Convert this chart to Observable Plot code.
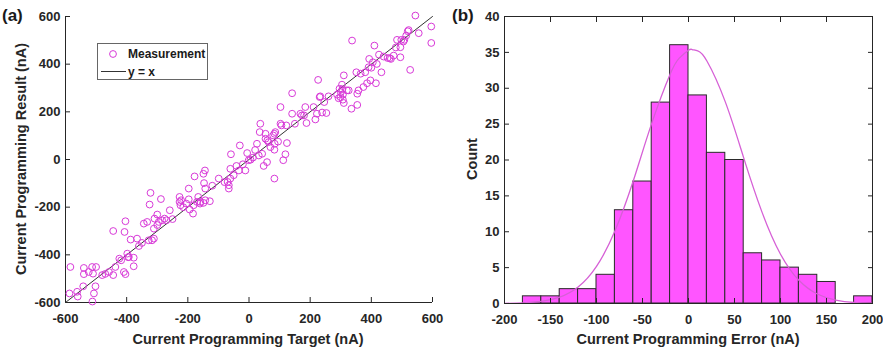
<!DOCTYPE html>
<html><head><meta charset="utf-8">
<script src="https://cdn.jsdelivr.net/npm/d3@7"></script>
<script src="https://cdn.jsdelivr.net/npm/@observablehq/plot@0.6"></script>
<style>
body{margin:0;background:#fff;font-family:"Liberation Sans",Arial,sans-serif;}
#wrap{position:relative;width:883px;height:350px;overflow:hidden;}
.panel{position:absolute;top:0;}
.tag{position:absolute;font-weight:bold;font-size:17px;color:#1a1a1a;line-height:1;}
.title{position:absolute;font-weight:bold;font-size:14.5px;color:#262626;white-space:nowrap;line-height:1;transform:translate(-50%,-50%);}
.title.rot{transform:translate(-50%,-50%) rotate(-90deg);}
.legend{position:absolute;left:97px;top:43px;width:111px;height:37px;border:1px solid #666;background:#fff;box-sizing:border-box;font-weight:bold;font-size:12px;color:#1a1a1a;}
.legend svg{position:absolute;left:0;top:0;}
.legend span{position:absolute;left:30px;line-height:1;transform:translateY(-50%);}
</style></head>
<body>
<div id="wrap"></div>
<script>
// ---- Panel (a) data: target vs measured current (nA)
const target = [-587,-584,-562,-542,-540,-540,-524,-513,-500,-512,-507,-502,-510,-480,-458,-444,-444,-437,-424,-418,
-407,-404,-409,-404,-398,-393,-387,-377,-377,-366,-360,-344,-333,-325,-322,-328,-317,-311,-311,-309,
-300,-295,-288,-284,-276,-270,-259,-227,-227,-224,-222,-197,-197,-194,-183,-181,-178,-170,-166,-159,
-149,-144,-147,-143,-143,-149,-128,-99,-70,-66,-66,-61,-59,-61,-50,-41,-33,-30,-12,-6,
-1,5,13,26,35,37,32,43,48,54,54,59,64,70,79,83,84,83,83,86,
103,103,106,112,119,122,124,141,141,168,173,184,188,211,217,222,226,231,233,239,
246,253,288,293,296,299,304,307,307,310,310,326,335,337,351,354,354,358,374,380,
386,391,393,397,405,410,415,418,433,440,453,464,473,484,495,495,498,508,514,519,
522,527,544,555,596,596,
-560,-470,-395,-350,-300,-250,-215,-205,-160,-120,-80,-20,20,60,95,150,180,260,300,305,320,365,400,425,460,480,505];
const result = [-562,-451,-555,-532,-455,-481,-472,-451,-451,-596,-562,-532,-479,-485,-472,-485,-300,-451,-416,-423,
-304,-259,-472,-481,-395,-409,-336,-448,-412,-332,-363,-269,-262,-189,-140,-339,-339,-332,-290,-248,
-231,-262,-166,-255,-248,-255,-213,-157,-178,-192,-171,-122,-167,-210,-227,-192,-71,-178,-157,-178,
-60,-46,-99,-122,-171,-182,-175,-80,-94,-122,-108,-39,22,-80,-66,-27,-46,59,-46,27,
-3,-1,8,66,115,150,17,24,-27,87,108,-11,73,52,101,108,66,41,-80,115,
220,150,143,-3,22,143,69,192,278,192,185,220,153,220,168,192,334,262,265,197,
241,195,272,257,297,262,314,272,251,353,237,290,213,499,366,276,229,290,304,366,
320,387,422,332,408,478,320,401,366,432,426,422,436,502,429,471,502,502,520,538,
543,376,604,530,558,489,
-575,-480,-410,-350,-275,-250,-200,-185,-185,-110,-95,-20,40,80,75,150,185,265,282,295,290,360,385,440,425,470,495];
const identityEnds = [-600, 600];
const ticksA = [-600,-400,-200,0,200,400,600];

// ---- Panel (b) data: error histogram (nA) and fitted curve
const binLeft = [-180,-160,-140,-120,-100,-80,-60,-40,-20,0,20,40,60,80,100,120,140,160,180];
const counts  = [1,1,2,2,4,13,17,28,36,29,21,20,7,6,5,4,3,0,1];
const binWidth = 20;
const fitX = [-200,-180,-160,-140,-120,-100,-80,-60,-40,-20,-10,0,4,10,20,40,60,80,100,120,140,160,180,200];
const fitY = [0.02,0.09,0.29,0.88,2.29,5.17,10.1,17.1,25.1,31.95,34.2,35.3,35.4,35.2,33.8,28.1,20.3,12.7,6.87,3.23,1.32,0.47,0.14,0.04];
const ticksBx = [-200,-150,-100,-50,0,50,100,150,200];
const ticksBy = [0,5,10,15,20,25,30,35,40];

const ink = "#262626";
const font = {fontFamily:"'Liberation Sans', Arial, sans-serif", fontSize:"13px", fontWeight:"bold", color:ink, background:"transparent", overflow:"visible"};
const fmt = d => String(d);

const left = Plot.plot({
  width: 440, height: 350,
  marginLeft: 65, marginRight: 8, marginTop: 16, marginBottom: 48,
  style: font,
  x: {domain: [-600, 600], label: null},
  y: {domain: [-600, 600], label: null},
  marks: [
    Plot.axisX(ticksA, {tickSize: 5, dy: -5, tickFormat: () => "", stroke: ink, label: null}),
    Plot.axisX(ticksA, {tickSize: 0, tickPadding: 11, tickFormat: fmt, fill: ink, label: null}),
    Plot.axisY(ticksA, {tickSize: 5, dx: 5, tickFormat: () => "", stroke: ink, label: null}),
    Plot.axisY(ticksA, {tickSize: 0, tickPadding: 5, tickFormat: fmt, fill: ink, label: null}),
    Plot.ruleX([-600], {stroke: ink}),
    Plot.ruleY([-600], {stroke: ink}),
    Plot.line(identityEnds, {x: d => d, y: d => d, stroke: "#333", strokeWidth: 1}),
    Plot.dot(d3.range(target.length), {x: i => target[i], y: i => result[i], r: 3.4, stroke: "#d83ad8", strokeWidth: 1, fill: "none"})
  ]
});

const right = Plot.plot({
  width: 443, height: 350,
  marginLeft: 64, marginRight: 11, marginTop: 16, marginBottom: 47,
  style: font,
  x: {domain: [-200, 200], label: null},
  y: {domain: [0, 40], label: null},
  marks: [
    Plot.rect(d3.range(counts.length).filter(i => counts[i] > 0), {
      x1: i => binLeft[i], x2: i => binLeft[i] + binWidth, y1: () => 0, y2: i => counts[i],
      fill: "#ff55ff", stroke: "#2a2a2a", strokeWidth: 1}),
    Plot.line(d3.range(fitX.length), {x: i => fitX[i], y: i => fitY[i], stroke: "#d660d6", strokeWidth: 1.3, curve: "natural"}),
    Plot.frame({stroke: ink}),
    Plot.axisX(ticksBx, {tickSize: 5, dy: -5, tickFormat: () => "", stroke: ink, label: null}),
    Plot.axisX(ticksBx, {anchor: "top", tickSize: 5, dy: 5, tickFormat: () => "", stroke: ink, label: null}),
    Plot.axisX(ticksBx, {tickSize: 0, tickPadding: 11, tickFormat: fmt, fill: ink, label: null}),
    Plot.axisY(ticksBy, {tickSize: 5, dx: 5, tickFormat: () => "", stroke: ink, label: null}),
    Plot.axisY(ticksBy, {anchor: "right", tickSize: 5, dx: -5, tickFormat: () => "", stroke: ink, label: null}),
    Plot.axisY(ticksBy, {tickSize: 0, tickPadding: 5, tickFormat: fmt, fill: ink, label: null})
  ]
});

const wrap = document.getElementById("wrap");
left.classList.add("panel"); left.style.left = "0px";
right.classList.add("panel"); right.style.left = "440px";
wrap.appendChild(left);
wrap.appendChild(right);

function addText(cls, txt, x, y) {
  const d = document.createElement("div");
  d.className = cls; d.textContent = txt;
  d.style.left = x + "px"; d.style.top = y + "px";
  wrap.appendChild(d);
}
addText("tag", "(a)", 2, 7);
addText("tag", "(b)", 452, 7);
addText("title", "Current Programming Target (nA)", 248, 339);
addText("title rot", "Current Programming Result (nA)", 21, 159);
addText("title", "Current Programming Error (nA)", 688, 339);
addText("title rot", "Count", 472, 159);

// legend
const lg = document.createElement("div");
lg.className = "legend";
lg.innerHTML = '<svg width="111" height="37"><circle cx="15" cy="10" r="3.4" fill="none" stroke="#d83ad8" stroke-width="1"/>' +
  '<line x1="3" x2="28" y1="27.5" y2="27.5" stroke="#333" stroke-width="1"/></svg>' +
  '<span style="top:10px">Measurement</span><span style="top:27.5px">y = x</span>';
wrap.appendChild(lg);
</script>
</body></html>
